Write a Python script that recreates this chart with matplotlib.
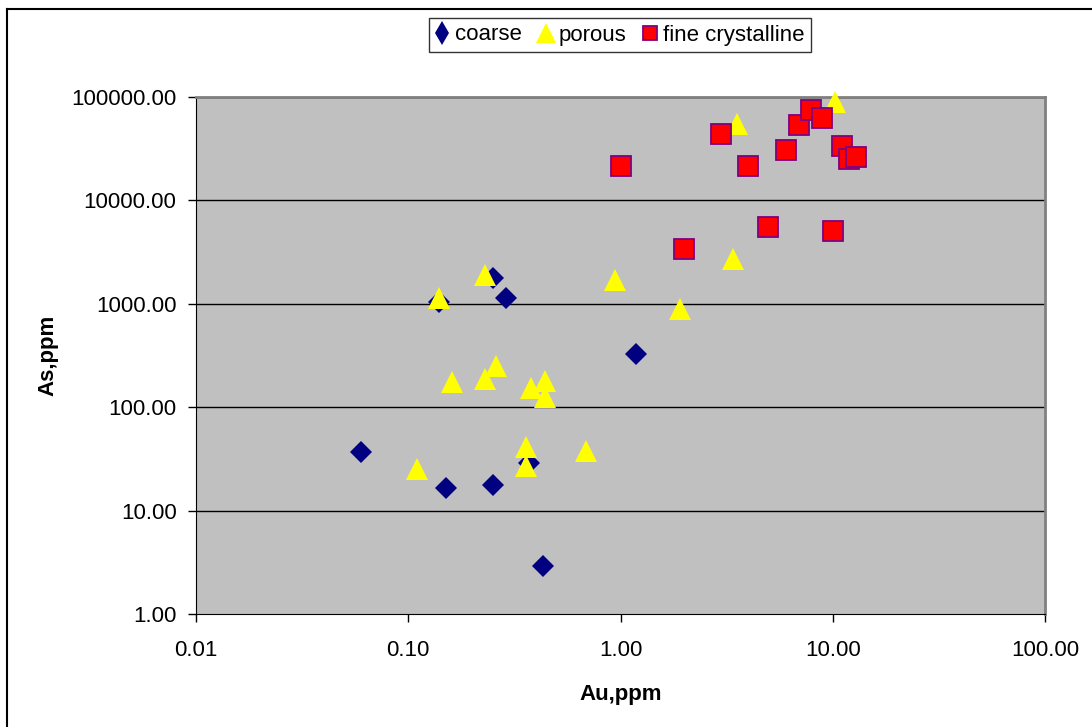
from matplotlib import pyplot as plt
from matplotlib.lines import Line2D
from matplotlib.ticker import FixedLocator, NullLocator
import numpy as np

# Au / As contents (ppm)
coarse_au = [0.06, 0.15, 0.25, 0.43, 0.37, 1.18, 0.29, 0.25, 0.14]
coarse_as = [36.6, 16.4, 17.7, 2.93, 29.0, 327, 1130, 1765, 1050]

porous_au = [0.23, 0.14, 0.94, 1.9, 0.16, 0.23, 0.26, 0.38, 0.44, 0.44,
             0.36, 0.36, 0.69, 0.11, 3.54, 10.2, 3.38]
porous_as = [1910, 1130, 1690, 890, 174, 187, 249, 153, 179, 125,
             41, 27, 37.5, 25.4, 54800, 89000, 2730]

fine_au = [1.0, 1.99, 2.99, 4.0, 4.95, 6.0, 6.9, 7.9, 8.9, 11.0, 11.9, 12.9, 10.0]
fine_as = [21400, 3410, 44200, 21500, 5530, 30700, 54000, 74300, 63100,
           33300, 25100, 26300, 5090]

x_ticks = [0.01, 0.1, 1, 10, 100]
y_ticks = [1, 10, 100, 1000, 10000, 100000]


def main():
    plt.rcParams['font.family'] = ['Liberation Sans', 'DejaVu Sans']
    plt.rcParams['font.size'] = 16

    fig = plt.figure(figsize=(10.92, 7.27), dpi=100)
    ax = fig.add_axes([196 / 1092, 1 - 614 / 727, 849 / 1092, 517 / 727])
    ax.set_facecolor('#C0C0C0')

    ax.plot(coarse_au, coarse_as, linestyle='none', marker='D',
            markersize=11.5, color='#000080', markeredgewidth=0, zorder=3,
            clip_on=False)
    ax.plot(porous_au, porous_as, linestyle='none', marker='^',
            markersize=16.5, color='#FFFF00', markeredgewidth=0, zorder=7,
            clip_on=False)
    ax.plot(fine_au, fine_as, linestyle='none', marker='s',
            markersize=14, markerfacecolor='#FF0000',
            markeredgecolor='#800080', markeredgewidth=1.3, zorder=8,
            clip_on=False)

    ax.set_xscale('log')
    ax.set_yscale('log')
    ax.set_xlim(0.01, 100)
    ax.set_ylim(1, 100000)

    ax.xaxis.set_major_locator(FixedLocator(x_ticks))
    ax.yaxis.set_major_locator(FixedLocator(y_ticks))
    ax.xaxis.set_minor_locator(NullLocator())
    ax.yaxis.set_minor_locator(NullLocator())
    ax.set_xticklabels(['%.2f' % v for v in x_ticks])
    ax.set_yticklabels(['%.2f' % v for v in y_ticks])
    ax.tick_params(direction='out', length=6, width=1, color='black',
                   labelsize=16)
    ax.tick_params(axis='x', pad=13)
    ax.tick_params(axis='y', pad=8)

    for v in y_ticks[1:]:
        ax.axhline(v, color='black', linewidth=1, zorder=1)

    ax.spines['left'].set_color('black')
    ax.spines['bottom'].set_color('black')
    ax.spines['top'].set_color('#808080')
    ax.spines['right'].set_color('#808080')
    ax.spines['top'].set_linewidth(2)
    ax.spines['right'].set_linewidth(2)
    for s in ax.spines.values():
        s.set_zorder(6)

    ax.set_xlabel('Au,ppm', fontweight='bold', fontsize=16, labelpad=16)
    ax.set_ylabel('As,ppm', fontweight='bold', fontsize=16, labelpad=9)

    handles = [
        Line2D([], [], linestyle='none', marker='d', markersize=12,
               color='#000080', markeredgewidth=0),
        Line2D([], [], linestyle='none', marker='^', markersize=15,
               color='#FFFF00', markeredgewidth=0),
        Line2D([], [], linestyle='none', marker='s', markersize=10,
               markerfacecolor='#FF0000', markeredgecolor='#800080',
               markeredgewidth=1.3),
    ]
    leg = fig.legend(handles, ['coarse', 'porous', 'fine crystalline'],
                     loc='center', bbox_to_anchor=(620 / 1092, 1 - 35 / 727),
                     ncol=3, frameon=True, fancybox=False, shadow=False,
                     fontsize=16, handlelength=0.6, handletextpad=0.25,
                     columnspacing=0.8, borderpad=0.3, borderaxespad=0)
    leg.get_frame().set_edgecolor('black')
    leg.get_frame().set_linewidth(1)

    # chart area border (only left and top edges are visible)
    fig.add_artist(Line2D([7 / 1092, 7 / 1092], [0, 1 - 9 / 727],
                          color='black', linewidth=1.5))
    fig.add_artist(Line2D([7 / 1092, 1], [1 - 9 / 727, 1 - 9 / 727],
                          color='black', linewidth=1.5))

    fig.savefig('out.png', dpi=100)


if __name__ == '__main__':
    main()
